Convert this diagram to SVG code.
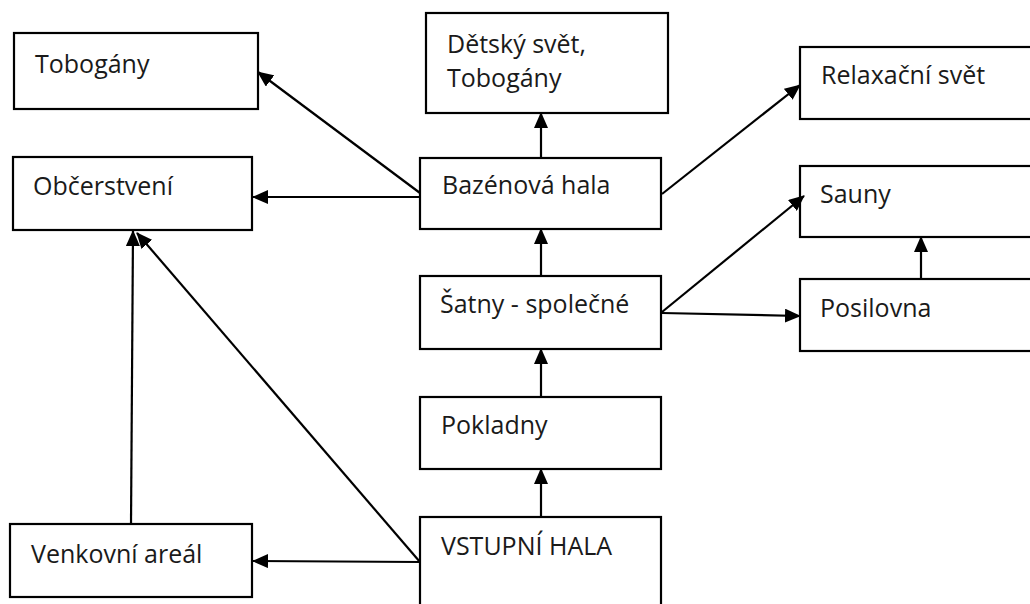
<svg xmlns="http://www.w3.org/2000/svg" width="1030" height="604" viewBox="0 0 1030 604">
<style>
.box{fill:#fff;stroke:#000;stroke-width:2.2}
.lbl{font-family:"Open Sans","Liberation Sans",sans-serif;font-size:25px;fill:#1a1a1a}
.con{stroke:#000;stroke-width:2.2;fill:none;marker-end:url(#arr)}
</style>
<defs>
<marker id="arr" markerUnits="userSpaceOnUse" markerWidth="16" markerHeight="14" refX="15" refY="7" orient="auto">
<path d="M0,0 L16,7 L0,14 z" fill="#000"/>
</marker>
</defs>
<rect width="1030" height="604" fill="#fff"/>
<g id="tobogany">
<rect class="box" x="14" y="33" width="244" height="76"/>
<text class="lbl" x="35" y="73">Tobogány</text>
</g>
<g id="obcerstveni">
<rect class="box" x="13" y="157" width="239" height="73"/>
<text class="lbl" x="33" y="195">Občerstvení</text>
</g>
<g id="detsky">
<rect class="box" x="426" y="13" width="242" height="100"/>
<text class="lbl" x="447" y="53">Dětský svět,</text>
<text class="lbl" x="447" y="87">Tobogány</text>
</g>
<g id="bazenova">
<rect class="box" x="420" y="158" width="241" height="71"/>
<text class="lbl" x="442" y="194">Bazénová hala</text>
</g>
<g id="relaxacni">
<rect class="box" x="800" y="47" width="240" height="72"/>
<text class="lbl" x="821" y="84">Relaxační svět</text>
</g>
<g id="sauny">
<rect class="box" x="800" y="166" width="240" height="71"/>
<text class="lbl" x="820" y="203">Sauny</text>
</g>
<g id="posilovna">
<rect class="box" x="800" y="279" width="240" height="72"/>
<text class="lbl" x="820" y="317">Posilovna</text>
</g>
<g id="satny">
<rect class="box" x="420" y="276" width="241" height="73"/>
<text class="lbl" x="440" y="313">Šatny - společné</text>
</g>
<g id="pokladny">
<rect class="box" x="420" y="397" width="241" height="72"/>
<text class="lbl" x="441" y="434">Pokladny</text>
</g>
<g id="vstupni">
<rect class="box" x="420" y="517" width="241" height="100"/>
<text class="lbl" x="441" y="555">VSTUPNÍ HALA</text>
</g>
<g id="venkovni">
<rect class="box" x="10" y="524" width="242" height="73"/>
<text class="lbl" x="31" y="563">Venkovní areál</text>
</g>
<g id="connectors">
<line class="con" x1="420" y1="193" x2="258" y2="72"/>
<line class="con" x1="420" y1="197" x2="253" y2="197"/>
<line class="con" x1="541" y1="158" x2="541" y2="113"/>
<line class="con" x1="662" y1="194" x2="800" y2="85"/>
<line class="con" x1="541" y1="276" x2="541" y2="229"/>
<line class="con" x1="662" y1="312" x2="804" y2="196"/>
<line class="con" x1="662" y1="313" x2="800" y2="316"/>
<line class="con" x1="921" y1="279" x2="921" y2="237"/>
<line class="con" x1="541" y1="397" x2="541" y2="349"/>
<line class="con" x1="541" y1="517" x2="541" y2="469"/>
<line class="con" x1="420" y1="562" x2="253" y2="561"/>
<line class="con" x1="131" y1="524" x2="133" y2="231"/>
<line class="con" x1="420" y1="562" x2="137" y2="233"/>
</g>
</svg>
